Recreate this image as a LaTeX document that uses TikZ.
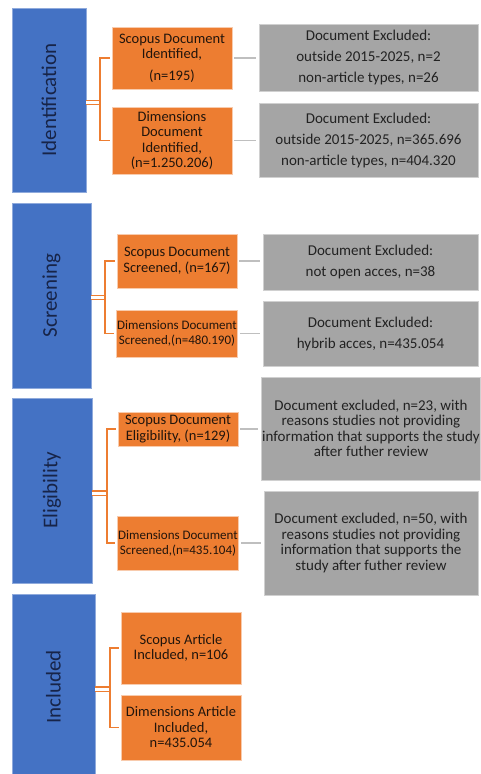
\documentclass[tikz,border=0pt]{standalone}
\usepackage{fontspec}
\setmainfont{Carlito}
\usepackage{xcolor}
\usetikzlibrary{positioning}

\definecolor{phaseblue}{HTML}{4472C4}
\definecolor{phaseline}{HTML}{8FAADC}
\definecolor{phaseink}{HTML}{172448}
\definecolor{recorange}{HTML}{ED7D31}
\definecolor{recline}{HTML}{F8CBAD}
\definecolor{recink}{HTML}{22150C}
\definecolor{exclgray}{HTML}{A5A5A5}
\definecolor{exclline}{HTML}{D0D0D0}
\definecolor{exclink}{HTML}{222222}
\definecolor{linkgray}{HTML}{BFBFBF}

\begin{document}
\begin{tikzpicture}[x=1pt, y=-1pt,
  phase/.style = {draw=phaseline, fill=phaseblue, line width=0.8pt, inner sep=0pt, minimum width=78pt},
  phasetext/.style = {rotate=90, text=phaseink, font=\fontsize{21}{25}\selectfont},
  rec/.style = {draw=recline, fill=recorange, line width=0.8pt, minimum width=120pt, inner sep=1pt, align=center, text=recink, font=\fontsize{14.5}{15.5}\selectfont},
  small/.style = {font=\fontsize{13}{15}\selectfont},
  excl/.style = {draw=exclline, fill=exclgray, line width=0.8pt, inner sep=1pt, align=center, text=exclink, font=\fontsize{15}{21}\selectfont},
  tight/.style = {font=\fontsize{15}{15.5}\selectfont},
  fork/.style = {draw=recorange, line width=1.3pt},
  link/.style = {draw=linkgray, line width=1.5pt, shorten <=2pt, shorten >=3pt}]
      \useasboundingbox (0,0) rectangle (480,774);

      % Identification
      \node[phase, minimum width=74pt, minimum height=184pt, label={[phasetext]center:Identification}] (A) at (49,100) {};
      \node[rec, minimum height=62pt] (A1) at (172,58)    {Scopus Document\\Identified,\\[6pt](n=195)};
      \node[rec, minimum height=67pt] (A2) at (172,140.5) {Dimensions\\Document\\Identified,\\(n=1.250.206)};
      \node[excl, minimum width=219pt, minimum height=67pt] (A1x) at (368.5,57.5) {Document Excluded:\\outside 2015-2025, n=2\\non-article types, n=26};
      \node[excl, minimum width=219pt, minimum height=74pt] (A2x) at (368.5,140)  {Document Excluded:\\outside 2015-2025, n=365.696\\non-article types, n=404.320};
      \coordinate (spA) at (100,102.5);

      % Screening
      \node[phase, minimum width=79pt, minimum height=185pt, label={[phasetext]center:Screening}] (B) at (51.5,295.5) {};
      \node[rec, minimum height=54pt] (B1) at (177,261)          {Scopus Document\\Screened, (n=167)};
      \node[rec, small, minimum height=47pt] (B2) at (177,333.5) {Dimensions Document\\Screened,(n=480.190)};
      \node[excl, minimum width=215pt, minimum height=56pt] (B1x) at (370.5,262)   {Document Excluded:\\not open acces, n=38};
      \node[excl, minimum width=215pt, minimum height=65pt] (B2x) at (370.5,333.5) {Document Excluded:\\hybrib acces, n=435.054};
      \coordinate (spB) at (105,297.5);

      % Eligibility
      \node[phase, minimum width=80pt, minimum height=185pt, label={[phasetext]center:Eligibility}] (C) at (52,490.5) {};
      \node[rec, minimum height=34pt] (C1) at (178,429)        {Scopus Document\\Eligibility, (n=129)};
      \node[rec, small, minimum height=54pt] (C2) at (178,543) {Dimensions Document\\Screened,(n=435.104)};
      \node[excl, tight, minimum width=214pt, minimum height=103pt] (C1x) at (371,428.5) {Document excluded, n=23, with\\reasons studies not providing\\information that supports the study\\after futher review};
      \node[excl, tight, minimum width=214pt, minimum height=104pt] (C2x) at (371,543)   {Document excluded, n=50, with\\reasons studies not providing\\information that supports the\\study after futher review};
      \coordinate (spC) at (107,493);

      % Included
      \node[phase, minimum width=83pt, minimum height=186pt, label={[phasetext]center:Included}] (D) at (53.5,687) {};
      \node[rec, minimum height=72pt] (D1) at (181,648)   {Scopus Article\\Included, n=106};
      \node[rec, minimum height=65pt] (D2) at (181,727.5) {Dimensions Article\\Included,\\n=435.054};
      \coordinate (spD) at (110,689);

      % brackets
      \foreach \p in {A,B,C,D} {
        \draw[fork, double=white, double distance=3pt] (\p.east |- sp\p) -- (sp\p);
        \draw[fork, shorten <=2pt] (\p1.west) -| (sp\p);
        \draw[fork, shorten <=2pt] (\p2.west) -| (sp\p);
      }

      % exclusions
      \foreach \p in {A,B,C} {
        \draw[link] (\p1.east) -- (\p1.east -| \p1x.west);
        \draw[link] (\p2.east) -- (\p2.east -| \p2x.west);
      }
    \end{tikzpicture}
\end{document}
